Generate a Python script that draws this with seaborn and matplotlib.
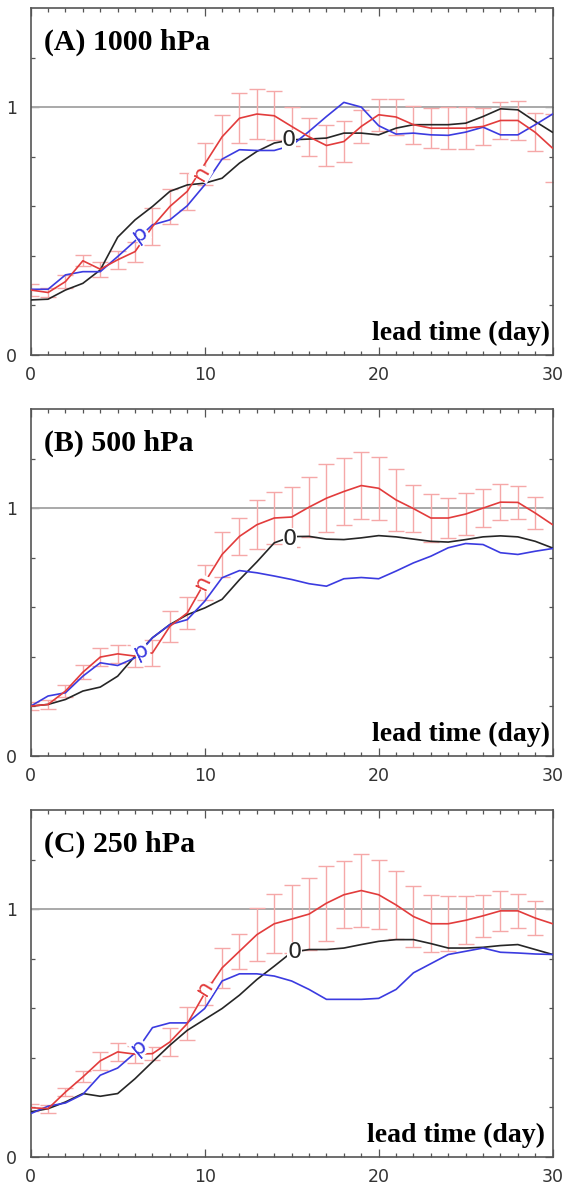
import numpy as np
import pandas as pd
import matplotlib.pyplot as plt
import seaborn as sns

# lead time in days
days = list(range(31))

# (A) 1000 hPa
obs_a = [0.222, 0.225, 0.262, 0.289, 0.343, 0.475, 0.545, 0.599, 0.660, 0.686, 0.693,
         0.713, 0.774, 0.821, 0.855, 0.868, 0.871, 0.875, 0.895, 0.895, 0.888,
         0.915, 0.929, 0.929, 0.929, 0.935, 0.962, 0.993, 0.989, 0.942, 0.898]
pos_a = [0.265, 0.265, 0.323, 0.336, 0.336, 0.397, 0.460, 0.525, 0.545, 0.602, 0.686,
         0.790, 0.828, 0.825, 0.825, 0.845, 0.902, 0.962, 1.019, 1.000, 0.925,
         0.891, 0.895, 0.888, 0.886, 0.899, 0.919, 0.888, 0.888, 0.929, 0.972]
neg_a = [0.262, 0.252, 0.296, 0.380, 0.346, 0.384, 0.417, 0.518, 0.599, 0.660, 0.770,
         0.880, 0.955, 0.972, 0.965, 0.922, 0.880, 0.845, 0.861, 0.922, 0.969,
         0.960, 0.929, 0.915, 0.915, 0.915, 0.922, 0.946, 0.946, 0.898, 0.834]
err_a = [0.024, 0.017, 0.027, 0.022, 0.030, 0.036, 0.040, 0.074, 0.070, 0.074, 0.086,
         0.090, 0.100, 0.100, 0.098, 0.077, 0.077, 0.084, 0.081, 0.067, 0.065,
         0.074, 0.077, 0.082, 0.084, 0.084, 0.074, 0.074, 0.080, 0.077, 0.138]

# (B) 500 hPa
obs_b = [0.201, 0.208, 0.228, 0.262, 0.278, 0.322, 0.403, 0.477, 0.530, 0.570, 0.597,
         0.632, 0.711, 0.783, 0.860, 0.885, 0.886, 0.875, 0.873, 0.880, 0.889,
         0.884, 0.875, 0.866, 0.863, 0.873, 0.884, 0.888, 0.884, 0.866, 0.839]
pos_b = [0.201, 0.242, 0.255, 0.322, 0.376, 0.365, 0.396, 0.477, 0.530, 0.550, 0.624,
         0.719, 0.748, 0.739, 0.726, 0.712, 0.695, 0.685, 0.715, 0.720, 0.715,
         0.746, 0.779, 0.806, 0.840, 0.857, 0.853, 0.820, 0.813, 0.826, 0.837]
neg_b = [0.201, 0.208, 0.262, 0.338, 0.399, 0.412, 0.403, 0.416, 0.523, 0.577, 0.700,
         0.813, 0.886, 0.933, 0.960, 0.964, 1.004, 1.040, 1.067, 1.091, 1.080,
         1.033, 0.998, 0.960, 0.960, 0.976, 1.000, 1.024, 1.023, 0.980, 0.933]
err_b = [0.017, 0.017, 0.023, 0.028, 0.035, 0.036, 0.046, 0.052, 0.062, 0.064, 0.069,
         0.090, 0.074, 0.098, 0.105, 0.120, 0.122, 0.137, 0.134, 0.135, 0.127,
         0.126, 0.094, 0.098, 0.080, 0.083, 0.077, 0.073, 0.067, 0.066, np.nan]

# (C) 250 hPa
obs_c = [0.182, 0.195, 0.222, 0.256, 0.245, 0.256, 0.316, 0.384, 0.451, 0.511, 0.555,
         0.599, 0.653, 0.716, 0.770, 0.826, 0.837, 0.837, 0.843, 0.857, 0.870,
         0.877, 0.877, 0.861, 0.843, 0.843, 0.846, 0.853, 0.857, 0.837, 0.817]
pos_c = [0.175, 0.205, 0.218, 0.253, 0.330, 0.359, 0.420, 0.522, 0.541, 0.541, 0.599,
         0.710, 0.739, 0.739, 0.730, 0.710, 0.676, 0.636, 0.636, 0.636, 0.640,
         0.676, 0.743, 0.780, 0.817, 0.830, 0.843, 0.826, 0.823, 0.819, 0.817]
neg_c = [0.199, 0.195, 0.262, 0.323, 0.388, 0.424, 0.415, 0.417, 0.464, 0.538, 0.660,
         0.763, 0.830, 0.897, 0.941, 0.960, 0.980, 1.024, 1.058, 1.075, 1.058,
         1.017, 0.970, 0.941, 0.941, 0.955, 0.973, 0.993, 0.993, 0.964, 0.941]
err_c = [0.013, 0.016, 0.017, 0.022, 0.036, 0.036, 0.034, 0.027, 0.055, 0.066, 0.045,
         0.082, 0.071, 0.107, 0.120, 0.136, 0.145, 0.151, 0.136, 0.147, 0.139,
         0.137, 0.122, 0.114, 0.110, 0.096, 0.084, 0.080, 0.070, 0.067, np.nan]

titles = ["(A) 1000 hPa", "(B) 500 hPa", "(C) 250 hPa"]

COLORS = {"0": "#262626", "p": "#3b3be0", "n": "#e23c3c"}
ERR_COLOR = "#f5a8a8"

# inline curve labels: (text, day, value, rotation)
curve_labels = [
    [("0", 14.85, 0.868, 0), ("n", 9.8, 0.735, 60), ("p", 6.3, 0.49, 35)],
    [("0", 14.9, 0.877, 0), ("n", 9.9, 0.700, 65), ("p", 6.35, 0.425, 25)],
    [("0", 15.15, 0.828, 0), ("n", 10.0, 0.683, 58), ("p", 6.2, 0.445, 40)],
]

sns.set_theme(style="ticks")
plt.rcParams["font.family"] = ["DejaVu Sans"]
plt.rcParams["text.color"] = "black"

fig = plt.figure(figsize=(5.67, 11.84), dpi=100)
left, width, height = 0.0541, 0.9206, 0.2931
bottoms = [0.7002, 0.3615, 0.0228]

panels = [
    (obs_a, pos_a, neg_a, err_a),
    (obs_b, pos_b, neg_b, err_b),
    (obs_c, pos_c, neg_c, err_c),
]

for i, (obs, pos, neg, err) in enumerate(panels):
    ax = fig.add_axes([left, bottoms[i], width, height])
    df = pd.DataFrame({
        "day": days * 3,
        "value": obs + pos + neg,
        "series": ["0"] * 31 + ["p"] * 31 + ["n"] * 31,
    })

    ax.axhline(1.0, color="#a9a9a9", lw=1.4, zorder=1)
    ax.errorbar(days, neg, yerr=np.array(err, dtype=float), fmt="none",
                ecolor=ERR_COLOR, elinewidth=1.0, capsize=5.5, capthick=1.0, zorder=2)
    sns.lineplot(data=df, x="day", y="value", hue="series",
                 hue_order=["0", "p", "n"], palette=COLORS,
                 linewidth=1.2, legend=False, ax=ax, zorder=3)

    for txt, x, y, rot in curve_labels[i]:
        ax.text(x, y, txt, color=COLORS[txt], rotation=rot, ha="center", va="center",
                fontsize=16, zorder=5,
                bbox=dict(facecolor="white", edgecolor="none", pad=0.2))

    ax.text(0.025, 0.879, titles[i], transform=ax.transAxes, fontsize=21.5,
            fontweight="bold", family="Liberation Serif", color="black",
            ha="left", va="baseline")
    ax.text(0.994 if i < 2 else 0.985, 0.043, "lead time (day)", transform=ax.transAxes,
            fontsize=20, fontweight="bold", family="Liberation Serif", color="black",
            ha="right", va="baseline")

    ax.set_xlim(0, 30)
    ax.set_ylim(0, 1.4)
    ax.set_xticks([0, 10, 20, 30])
    ax.set_xticks(days, minor=True)
    ax.set_yticks([0, 1])
    ax.set_yticks([0.2, 0.4, 0.6, 0.8, 1.2], minor=True)
    ax.set_xlabel("")
    ax.set_ylabel("")
    ax.tick_params(which="both", direction="in", top=True, right=True,
                   color="#555555", width=0.9)
    ax.tick_params(which="major", length=6, labelsize=12.5, labelcolor="#333333")
    ax.tick_params(which="minor", length=3)
    ax.tick_params(axis="x", which="major", pad=8)
    ax.tick_params(axis="y", which="major", pad=10)
    for sp in ax.spines.values():
        sp.set_color("#555555")
        sp.set_linewidth(1.2)

fig.savefig("out.png", dpi=100)
